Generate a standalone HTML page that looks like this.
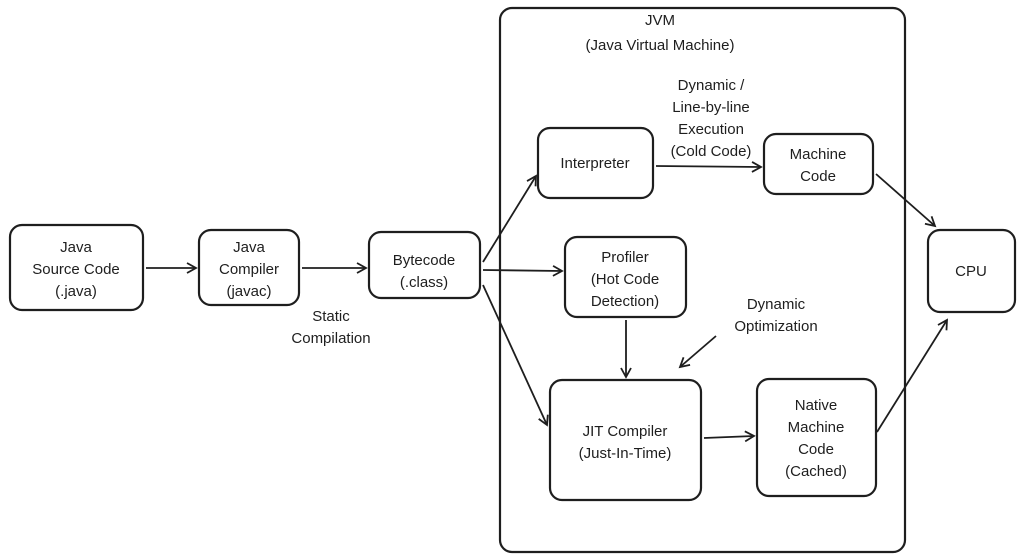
<!DOCTYPE html>
<html><head><meta charset="utf-8"><style>
html,body{margin:0;padding:0;background:#fff;}
svg{display:block;}
text{font-family:"Liberation Sans",sans-serif;font-size:15px;fill:#1e1e1e;text-anchor:middle;}
</style></head><body>
<svg width="1024" height="559" viewBox="0 0 1024 559" xmlns="http://www.w3.org/2000/svg">
<defs><marker id="a" markerWidth="12" markerHeight="12" refX="10" refY="6" orient="auto" markerUnits="userSpaceOnUse"><path d="M1,1 L10,6 L1,11" fill="none" stroke="#1e1e1e" stroke-width="1.8"/></marker></defs>
<g fill="none" stroke="#1e1e1e" stroke-width="2.2">
<rect x="500" y="8" width="405" height="544" rx="12"/>
<rect x="10" y="225" width="133" height="85" rx="12"/>
<rect x="199" y="230" width="100" height="75" rx="12"/>
<rect x="369" y="232" width="111" height="66" rx="12"/>
<rect x="538" y="128" width="115" height="70" rx="12"/>
<rect x="764" y="134" width="109" height="60" rx="12"/>
<rect x="565" y="237" width="121" height="80" rx="12"/>
<rect x="550" y="380" width="151" height="120" rx="12"/>
<rect x="757" y="379" width="119" height="117" rx="12"/>
<rect x="928" y="230" width="87" height="82" rx="12"/>
</g>
<g fill="none" stroke="#1e1e1e" stroke-width="1.8" marker-end="url(#a)">
<line x1="146" y1="268" x2="196" y2="268"/>
<line x1="302" y1="268" x2="366" y2="268"/>
<line x1="483" y1="262" x2="536" y2="176"/>
<line x1="483" y1="270" x2="562" y2="271"/>
<line x1="483" y1="285" x2="547" y2="425"/>
<line x1="656" y1="166" x2="761" y2="167"/>
<line x1="626" y1="320" x2="626" y2="377"/>
<line x1="716" y1="336" x2="680" y2="367"/>
<line x1="704" y1="438" x2="754" y2="436"/>
<line x1="876" y1="174" x2="935" y2="226"/>
<line x1="877" y1="432" x2="947" y2="320"/>
</g>
<text x="76" y="252">Java</text><text x="76" y="274">Source Code</text><text x="76" y="296">(.java)</text>
<text x="249" y="252">Java</text><text x="249" y="274">Compiler</text><text x="249" y="296">(javac)</text>
<text x="424" y="265">Bytecode</text><text x="424" y="287">(.class)</text>
<text x="331" y="321">Static</text><text x="331" y="343">Compilation</text>
<text x="660" y="25">JVM</text><text x="660" y="50">(Java Virtual Machine)</text>
<text x="711" y="90">Dynamic /</text><text x="711" y="112">Line-by-line</text><text x="711" y="134">Execution</text><text x="711" y="156">(Cold Code)</text>
<text x="595" y="168">Interpreter</text>
<text x="818" y="159">Machine</text><text x="818" y="181">Code</text>
<text x="625" y="262">Profiler</text><text x="625" y="284">(Hot Code</text><text x="625" y="306">Detection)</text>
<text x="776" y="309">Dynamic</text><text x="776" y="331">Optimization</text>
<text x="625" y="436">JIT Compiler</text><text x="625" y="458">(Just-In-Time)</text>
<text x="816" y="410">Native</text><text x="816" y="432">Machine</text><text x="816" y="454">Code</text><text x="816" y="476">(Cached)</text>
<text x="971" y="276">CPU</text>
</svg>
</body></html>
